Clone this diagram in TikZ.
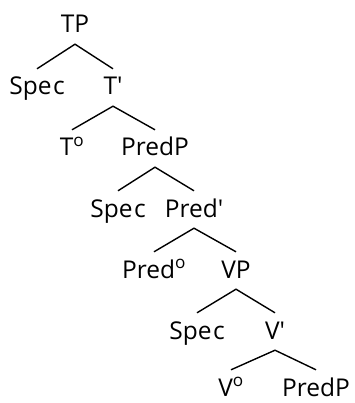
\documentclass[tikz,border=0pt]{standalone}
\usepackage{fontspec}
\setmainfont{Open Sans}
\usepackage{tikz}

\tikzset{
  lbl/.style={anchor=base, inner xsep=0pt, inner ysep=8pt, text height=18pt, text depth=3pt,
    font=\fontsize{24.5}{28}\selectfont},
  % bottom row: same top edge, no room below the baseline
  lastrow/.style={lbl, inner ysep=0pt, text height=26pt, text depth=0pt},
  branch/.style={line width=1.4pt}
}
\newcommand{\barmark}{\textquotesingle}

\begin{document}
\begin{tikzpicture}[x=1pt,y=1pt]
			\useasboundingbox (0,0) rectangle (354,-403);
			% labels, row by row
			\node[lbl] (tp) at (75,-33) {TP};
			\node[lbl] (spec1) at (37,-95) {Spe\kern1.5pt c};
			\node[lbl] (tbar) at (113,-95) {T\barmark};
			\node[lbl] (t0) at (72,-156) {T\textsuperscript{o}};
			\node[lbl] (predp) at (155,-156) {PredP};
			\node[lbl] (spec2) at (118,-217) {Spe\kern1.5pt c};
			\node[lbl] (predbar) at (194,-217) {Pred\barmark};
			\node[lbl] (pred0) at (154,-278) {Pred\textsuperscript{o}};
			\node[lbl] (vp) at (236,-278) {VP};
			\node[lbl] (spec3) at (197,-339) {Spe\kern1.5pt c};
			\node[lbl] (vbar) at (275,-339) {V\barmark};
			\node[lastrow] (v0) at (231,-396) {V\textsuperscript{o}};
			\node[lastrow] (predp2) at (316,-396) {PredP};
			% branches
			\foreach \p/\l/\r in {tp/spec1/tbar, tbar/t0/predp, predp/spec2/predbar,
				predbar/pred0/vp, vp/spec3/vbar, vbar/v0/predp2}
				\draw[branch] (\l.north) -- (\p.south) -- (\r.north);
		\end{tikzpicture}
\end{document}
